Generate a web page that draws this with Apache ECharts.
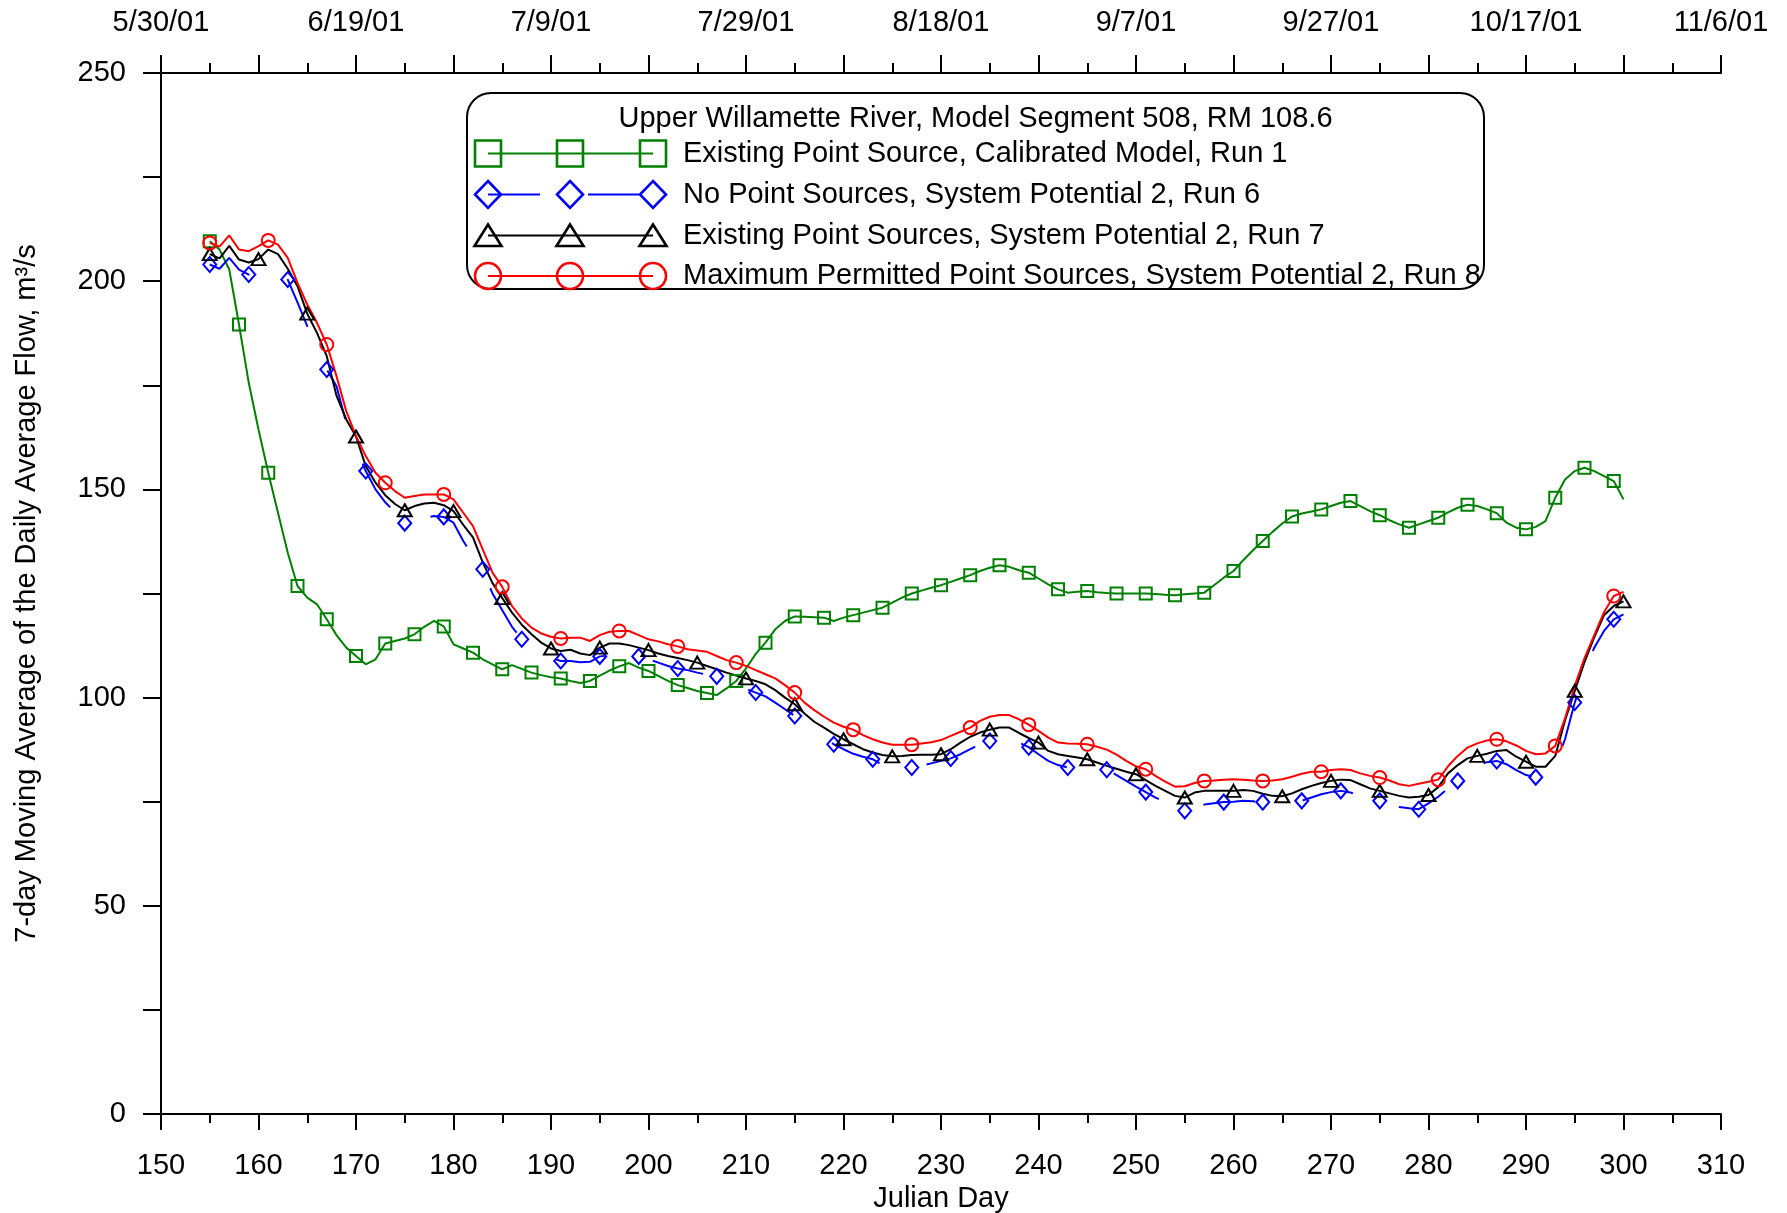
<!DOCTYPE html>
<html>
<head>
<meta charset="utf-8">
<script src="https://cdn.jsdelivr.net/npm/echarts@6/dist/echarts.min.js"></script>
<style>
  html, body { margin: 0; padding: 0; background: #ffffff; }
  #chart { width: 1787px; height: 1213px; }
</style>
</head>
<body>
<div id="chart"></div>
<script>
// Daily 7-day moving average flow (m3/s), Julian days 155..300
const firstDay = 155;

const run1 = [
  209.6, 207.6, 202.8, 189.6, 175.6, 164.4, 154.0, 144.4, 134.8, 126.8,
  124.0, 122.4, 118.8, 115.0, 112.0, 110.0, 108.0, 109.2, 113.0, 113.6,
  114.2, 115.2, 117.0, 118.4, 117.1, 112.8, 111.8, 110.8, 109.2, 108.0,
  106.8, 107.8, 106.9, 106.0, 105.4, 104.9, 104.6, 104.0, 103.5, 104.0,
  105.3, 106.5, 107.5, 108.3, 107.2, 106.4, 105.2, 104.0, 103.0, 102.3,
  101.6, 101.1, 100.6, 102.2, 104.0, 107.0, 110.5, 113.2, 116.4, 118.4,
  119.5, 119.4, 119.3, 119.2, 118.4, 119.2, 119.8, 120.4, 121.0, 121.6,
  122.8, 124.0, 125.0, 125.7, 126.4, 127.0, 127.8, 128.6, 129.4, 130.4,
  131.2, 131.8, 131.4, 130.6, 130.0, 128.6, 127.2, 126.0, 125.2, 125.4,
  125.6, 125.3, 125.1, 125.0, 125.0, 125.0, 125.0, 124.9, 124.7, 124.6,
  124.8, 125.0, 125.2, 127.0, 128.8, 130.4, 133.0, 135.4, 137.6, 139.8,
  141.8, 143.5, 144.2, 144.7, 145.2, 146.0, 146.8, 147.2, 146.0, 144.8,
  143.8, 142.6, 141.6, 140.8, 141.6, 142.4, 143.2, 144.5, 145.6, 146.3,
  146.0, 145.2, 144.3, 142.0, 140.8, 140.4, 141.0, 142.4, 148.0, 152.4,
  154.4, 155.2, 154.4, 153.2, 152.0, 147.6
];

const run6 = [
  204.0, 203.0, 205.6, 202.8, 201.6, 202.4, 204.4, 203.2, 200.4, 194.9,
  189.2, 184.5, 178.8, 174.8, 166.0, 160.0, 154.4, 150.0, 146.9, 144.5,
  141.9, 142.5, 143.2, 143.6, 143.4, 142.0, 137.6, 134.0, 130.8, 125.0,
  121.0, 117.0, 114.0, 111.8, 110.6, 109.6, 108.8, 108.8, 108.5, 108.6,
  109.9, 110.1, 110.2, 110.0, 109.9, 109.2, 108.4, 107.6, 107.0, 106.6,
  106.0, 105.5, 105.1, 104.0, 103.0, 102.1, 101.2, 100.3, 98.8, 97.2,
  95.6, 93.6, 91.6, 90.2, 88.8, 87.6, 86.5, 85.8, 85.2, 83.8,
  83.4, 83.2, 83.2, 83.6, 84.2, 84.8, 85.4, 86.4, 87.6, 88.8,
  89.6, 89.9, 90.0, 89.2, 88.1, 86.4, 84.8, 83.8, 83.2, 83.2,
  83.2, 83.0, 82.7, 81.4, 80.0, 78.6, 77.3, 76.0, 74.9, 73.8,
  72.8, 73.7, 74.3, 74.6, 74.9, 75.0, 75.2, 75.1, 74.9, 74.6,
  74.4, 74.8, 75.2, 76.0, 76.8, 77.3, 77.6, 77.2, 76.4, 75.6,
  75.2, 74.2, 73.7, 73.4, 73.2, 74.6, 76.2, 78.2, 80.0, 82.0,
  83.8, 84.5, 84.8, 84.0, 82.6, 81.4, 80.9, 81.6, 83.6, 90.0,
  98.8, 106.0, 112.0, 116.0, 118.8, 120.0
];

const run7 = [
  206.5, 205.5, 208.5, 205.2, 204.5, 205.3, 207.6, 206.5, 203.0, 198.8,
  192.2, 187.6, 182.0, 172.5, 166.8, 162.7, 155.6, 151.6, 148.6, 146.5,
  145.0, 146.0, 146.6, 146.8, 146.2, 144.8, 141.5, 138.5, 132.5, 127.5,
  123.9, 120.4, 117.5, 115.2, 113.2, 111.8, 111.2, 111.5, 110.6, 110.2,
  112.0, 113.0, 113.0, 112.6, 112.0, 111.4, 110.6, 110.0, 109.5, 109.0,
  108.4, 107.6, 106.8, 106.0, 105.3, 104.6, 104.0, 103.2, 101.8, 100.0,
  98.4, 96.2, 94.2, 92.8, 91.3, 90.0, 88.8, 87.6, 86.8, 86.2,
  85.9, 86.0, 86.2, 86.3, 86.3, 86.4, 87.6, 89.2, 90.6, 91.6,
  92.3, 92.8, 92.8, 91.5, 90.3, 89.2, 87.2, 86.4, 86.0, 85.6,
  85.2, 84.4, 83.6, 82.9, 82.2, 81.6, 80.2, 78.8, 77.6, 76.4,
  76.0, 77.2, 77.6, 77.6, 77.6, 77.6, 77.8, 77.6, 76.9, 76.4,
  76.3, 77.0, 78.0, 78.8, 79.5, 80.0, 80.3, 80.2, 79.2, 78.2,
  77.6, 77.0, 76.4, 76.0, 76.2, 76.6, 78.5, 81.8, 83.8, 85.4,
  86.0, 86.5, 87.2, 87.4, 85.8, 84.6, 83.4, 83.4, 86.0, 94.5,
  101.6, 108.5, 114.5, 119.8, 122.0, 123.1
];

const run8 = [
  209.2, 208.3, 211.0, 207.6, 207.2, 208.4, 209.8, 208.8, 205.6, 199.6,
  194.4, 190.0, 184.8, 177.2, 168.8, 162.8, 158.0, 154.0, 151.6, 149.6,
  148.0, 148.4, 148.8, 148.8, 148.8, 147.6, 144.4, 141.2, 135.6, 130.0,
  126.6, 122.0, 119.0, 116.8, 115.4, 114.6, 114.2, 114.4, 114.4, 113.6,
  115.0, 115.8, 116.0, 116.0, 115.0, 114.0, 113.5, 112.8, 112.3, 111.6,
  111.3, 111.0, 110.0, 109.0, 108.4, 107.6, 106.6, 105.6, 104.6, 103.0,
  101.2, 98.8, 97.0, 95.4, 94.0, 93.0, 92.3, 91.0, 90.0, 89.2,
  88.7, 88.7, 88.7, 89.0, 89.3, 89.8, 90.8, 91.8, 92.8, 94.4,
  95.4, 95.8, 95.8, 94.8, 93.5, 92.0, 90.4, 89.2, 89.0, 88.9,
  88.8, 88.2, 87.5, 86.3, 84.8, 83.5, 82.8, 81.2, 79.8, 78.6,
  78.7, 79.5, 80.0, 80.1, 80.3, 80.4, 80.3, 80.1, 80.0, 80.1,
  80.4, 81.0, 81.7, 82.2, 82.2, 82.6, 82.8, 82.6, 81.8, 81.2,
  80.8, 80.1, 79.2, 78.8, 79.3, 79.8, 80.3, 83.5, 86.0, 88.0,
  89.0, 89.7, 90.0, 89.5, 88.5, 87.2, 86.4, 86.6, 88.4, 95.0,
  102.8, 109.5, 115.0, 120.5, 124.4, 125.4
];

const legendTitle = 'Upper Willamette River, Model Segment 508, RM 108.6';
const xAxisTitle = 'Julian Day';
const yAxisTitle = '7-day Moving Average of the Daily Average Flow, m\u00B3/s';

const runs = [
  { name: 'Existing Point Source, Calibrated Model, Run 1', values: run1, color: '#008000',
    symbol: 'rect', size: [12, 12], markEvery: 3, dash: 'solid' },
  { name: 'No Point Sources, System Potential 2, Run 6', values: run6, color: '#0000ff',
    symbol: 'diamond', size: [13, 15], markEvery: 4, dash: [52, 48] },
  { name: 'Existing Point Sources, System Potential 2, Run 7', values: run7, color: '#000000',
    symbol: 'triangle', size: [14, 12], markEvery: 5, dash: 'solid' },
  { name: 'Maximum Permitted Point Sources, System Potential 2, Run 8', values: run8, color: '#ff0000',
    symbol: 'circle', size: [13, 13], markEvery: 6, dash: 'solid' }
];

const FONT = '"Liberation Sans", Arial, sans-serif';
const FS = 29;

function toPoints(values) {
  return values.map((v, i) => [firstDay + i, v]);
}

function dateLabel(day) {
  const d = new Date(2001, 0, day);
  return (d.getMonth() + 1) + '/' + d.getDate() + '/01';
}

const series = [];
runs.forEach(r => {
  series.push({
    type: 'line', name: r.name, data: toPoints(r.values),
    showSymbol: false, symbol: 'none', smooth: false,
    lineStyle: { color: r.color, width: 2, type: r.dash },
    itemStyle: { color: r.color }, z: 2, silent: true
  });
});
runs.forEach(r => {
  const pts = toPoints(r.values).filter((p, i) => i % r.markEvery === 0);
  series.push({
    type: 'scatter', name: r.name + ' markers', data: pts,
    symbol: r.symbol, symbolSize: r.size,
    itemStyle: { color: 'rgba(0,0,0,0)', borderColor: r.color, borderWidth: 2, opacity: 1 },
    z: 3, silent: true
  });
});

// Legend box drawn as graphics: three markers per entry joined by the line style
const box = { x: 467, y: 93, w: 1017, h: 196 };
const legendRows = [153.5, 194.5, 235.5, 276];
const markerXs = [488, 570, 653];
const legendEls = [{
  type: 'rect', shape: { x: box.x, y: box.y, width: box.w, height: box.h, r: 24 },
  style: { fill: '#ffffff', stroke: '#000000', lineWidth: 2 }, z: 10
}, {
  type: 'text', x: box.x + box.w / 2, y: 119,
  style: { text: legendTitle, fill: '#000', font: FS + 'px ' + FONT, textAlign: 'center', textVerticalAlign: 'middle' },
  z: 11
}];

function legendMarker(sym, cx, cy, color) {
  const st = { fill: 'none', stroke: color, lineWidth: 2.6 };
  if (sym === 'rect') return { type: 'rect', shape: { x: cx - 13, y: cy - 13, width: 26, height: 26 }, style: st, z: 12 };
  if (sym === 'circle') return { type: 'circle', shape: { cx: cx, cy: cy, r: 13 }, style: st, z: 12 };
  if (sym === 'diamond') return { type: 'polygon', shape: { points: [[cx, cy - 13.5], [cx + 13, cy], [cx, cy + 13.5], [cx - 13, cy]] }, style: st, z: 12 };
  return { type: 'polygon', shape: { points: [[cx, cy - 11], [cx + 13.5, cy + 10.5], [cx - 13.5, cy + 10.5]] }, style: st, z: 12 };
}

runs.forEach((r, k) => {
  const cy = legendRows[k];
  legendEls.push({
    type: 'line', shape: { x1: markerXs[0], y1: cy, x2: markerXs[2], y2: cy },
    style: { stroke: r.color, lineWidth: 2, lineDash: Array.isArray(r.dash) ? r.dash : null }, z: 11
  });
  markerXs.forEach(mx => legendEls.push(legendMarker(r.symbol, mx, cy, r.color)));
  legendEls.push({
    type: 'text', x: 683, y: cy,
    style: { text: r.name, fill: '#000', font: FS + 'px ' + FONT, textAlign: 'left', textVerticalAlign: 'middle' },
    z: 11
  });
});

const axisLineStyle = { color: '#000', width: 2 };
const labelStyle = { color: '#000', fontSize: FS, fontFamily: FONT };

const option = {
  animation: false,
  backgroundColor: '#ffffff',
  grid: {
    left: 161, top: 73, width: 1560, height: 1041,
    containLabel: false, outerBoundsMode: 'none'
  },
  xAxis: [{
    type: 'value', position: 'bottom', min: 150, max: 310, interval: 10,
    axisLine: { show: true, onZero: false, lineStyle: axisLineStyle },
    axisTick: { show: true, inside: false, length: 16, lineStyle: axisLineStyle },
    minorTick: { show: true, splitNumber: 2, length: 9, lineStyle: axisLineStyle },
    splitLine: { show: false },
    axisLabel: Object.assign({ margin: 37 }, labelStyle),
    name: xAxisTitle, nameLocation: 'middle', nameGap: 69,
    nameTextStyle: { color: '#000', fontSize: FS, fontFamily: FONT }
  }, {
    type: 'value', position: 'top', min: 150, max: 310, interval: 10,
    axisLine: { show: true, onZero: false, lineStyle: axisLineStyle },
    axisTick: { show: true, inside: false, length: 18, lineStyle: axisLineStyle },
    minorTick: { show: true, splitNumber: 2, length: 10, lineStyle: axisLineStyle },
    splitLine: { show: false },
    axisLabel: Object.assign({
      margin: 36,
      formatter: v => ((v - 150) % 20 === 0 ? dateLabel(v) : '')
    }, labelStyle)
  }],
  yAxis: [{
    type: 'value', min: 0, max: 250, interval: 25,
    axisLine: { show: true, onZero: false, lineStyle: axisLineStyle },
    axisTick: { show: true, inside: false, length: 18, lineStyle: axisLineStyle },
    splitLine: { show: false },
    axisLabel: Object.assign({
      margin: 35,
      formatter: v => (v % 50 === 0 ? String(v) : '')
    }, labelStyle),
    name: yAxisTitle, nameLocation: 'middle', nameGap: 120,
    nameTextStyle: { color: '#000', fontSize: FS, fontFamily: FONT }
  }],
  series: series,
  graphic: { elements: legendEls }
};

const chart = echarts.init(document.getElementById('chart'), null, { renderer: 'canvas' });
chart.setOption(option);
</script>
</body>
</html>
